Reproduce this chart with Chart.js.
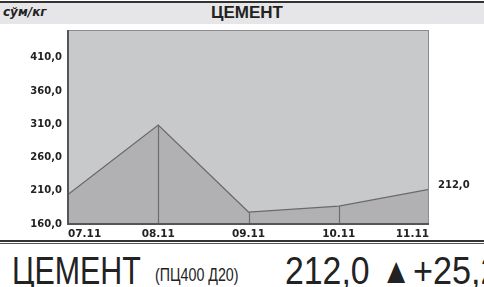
<!DOCTYPE html>
<html>
<head>
<meta charset="utf-8">
<script src="https://cdn.jsdelivr.net/npm/chart.js@4/dist/chart.umd.min.js"></script>
<style>
  html, body { margin: 0; padding: 0; background: #fff; }
  #wrap { position: relative; width: 484px; height: 287px; overflow: hidden; font-family: "Liberation Sans", Arial, sans-serif; }
  #topline { position: absolute; left: 0; top: 1px; width: 484px; height: 2px; background: #333; }
  #header { position: absolute; left: 0; top: 3px; width: 484px; height: 21px; background: #e6e6e8; }
  #unit { position: absolute; left: 3px; top: 2px; font-family: "DejaVu Sans", sans-serif; font-size: 12px; font-weight: bold; font-style: italic; color: #222; }
  #title { position: absolute; left: 0; width: 494px; top: 0px; text-align: center; font-size: 17px; font-weight: bold; color: #222; }
  #chartbox { position: absolute; left: 0; top: 18px; width: 484px; height: 220px; }
  #chartbox canvas { display: block; }
  #line1 { position: absolute; left: 0; top: 240px; width: 484px; height: 2px; background: #333; }
  #line2 { position: absolute; left: 0; top: 243px; width: 484px; height: 1px; background: #555; }
  .ft { position: absolute; white-space: nowrap; color: #222; transform-origin: 0 0;
        font-family: "Liberation Sans Narrow", "Liberation Sans", Arial, sans-serif; line-height: 1; }
</style>
</head>
<body>
<div id="wrap">
  <div id="topline"></div>
  <div id="header">
    <div id="unit">сўм/кг</div>
    <div id="title">ЦЕМЕНТ</div>
  </div>
  <div id="chartbox"><canvas id="cement_chart" width="484" height="220"></canvas></div>
  <div id="line1"></div>
  <div id="line2"></div>
  <div class="ft" style="left:12px; top:252px; font-size:38px; transform:scaleX(0.8);">ЦЕМЕНТ</div>
  <div class="ft" style="left:155px; top:265px; font-size:19px; transform:scaleX(0.75);">(ПЦ400 Д20)</div>
  <div class="ft" style="left:285px; top:252px; font-size:38px; transform:scaleX(0.89);">212,0</div>
  <div class="ft" style="left:381px; top:253px; font-size:36px; transform:scaleX(0.85);">▲</div>
  <div class="ft" style="left:413px; top:252px; font-size:38px; transform:scaleX(0.9);">+25,2</div>
</div>
<script>
"use strict"

var dates = ["07.11", "08.11", "09.11", "10.11", "11.11"];
var prices = [204.5, 309, 178, 186.8, 212.0];
var yTicks = [160, 210, 260, 310, 360, 410];

function fmt(v) {
    return v.toFixed(1).replace(".", ",");
}

// plot background, drop lines and last value label
var cementPlugin = {
    id: 'cementPlugin',
    beforeDraw: function(chart) {
        var a = chart.chartArea, ctx = chart.ctx;
        ctx.save();
        ctx.fillStyle = "#c8c9cb";
        ctx.fillRect(a.left, a.top, a.right - a.left, a.bottom - a.top);
        ctx.restore();
    },
    afterDatasetsDraw: function(chart) {
        var a = chart.chartArea, ctx = chart.ctx;
        var meta = chart.getDatasetMeta(0);
        ctx.save();
        ctx.strokeStyle = "#6e6e70";
        ctx.lineWidth = 1.2;
        meta.data.forEach(function(pt, i) {
            if (i == 0 || i == meta.data.length - 1) return;
            ctx.beginPath();
            ctx.moveTo(Math.round(pt.x) + 0.5, pt.y);
            ctx.lineTo(Math.round(pt.x) + 0.5, a.bottom);
            ctx.stroke();
        });
        // frame
        ctx.strokeStyle = "#8c8c8e";
        ctx.lineWidth = 1;
        ctx.strokeRect(a.left + 0.5, a.top + 0.5, a.right - a.left - 1, a.bottom - a.top);
        ctx.strokeStyle = "#555";
        ctx.lineWidth = 2;
        ctx.beginPath();
        ctx.moveTo(a.left, a.top);
        ctx.lineTo(a.left, a.bottom);
        ctx.lineTo(a.right, a.bottom);
        ctx.stroke();
        // last value
        var last = meta.data[meta.data.length - 1];
        ctx.fillStyle = "#222";
        ctx.font = "bold 10px 'DejaVu Sans', sans-serif";
        ctx.textBaseline = "middle";
        ctx.fillText(fmt(prices[prices.length - 1]), a.right + 9, last.y - 4);
        ctx.restore();
    }
};

var ctx = document.getElementById("cement_chart");
var cementChart = new Chart(ctx, {
    type: 'line',
    data: {
        labels: dates,
        datasets: [
            {
                data: prices,
                borderColor: "#6a6a6c",
                borderWidth: 1.2,
                backgroundColor: "#b1b1b4",
                fill: 'start',
                tension: 0,
                pointRadius: 0
            }
        ]
    },
    options: {
        responsive: false,
        animation: false,
        layout: { padding: { top: 5, right: 55, left: 0, bottom: 0 } },
        plugins: { legend: { display: false }, tooltip: { enabled: false } },
        scales: {
            x: {
                offset: false,
                grid: { display: false, drawTicks: false },
                border: { display: false },
                afterFit: function(scale) { scale.height = 14; },
                ticks: {
                    align: 'inner',
                    padding: 4,
                    maxRotation: 0,
                    autoSkip: false,
                    color: "#222",
                    font: { family: "DejaVu Sans", size: 10.5, weight: "bold" }
                }
            },
            y: {
                min: 160,
                max: 452,
                grid: { display: false, drawTicks: false },
                border: { display: false },
                afterFit: function(scale) { scale.width = 68; },
                afterBuildTicks: function(scale) {
                    scale.ticks = yTicks.map(function(v) { return { value: v }; });
                },
                ticks: {
                    padding: 6,
                    color: "#222",
                    font: { family: "DejaVu Sans", size: 10, weight: "bold" },
                    callback: function(v) { return fmt(v); }
                }
            }
        }
    },
    plugins: [cementPlugin]
});
</script>
</body>
</html>
